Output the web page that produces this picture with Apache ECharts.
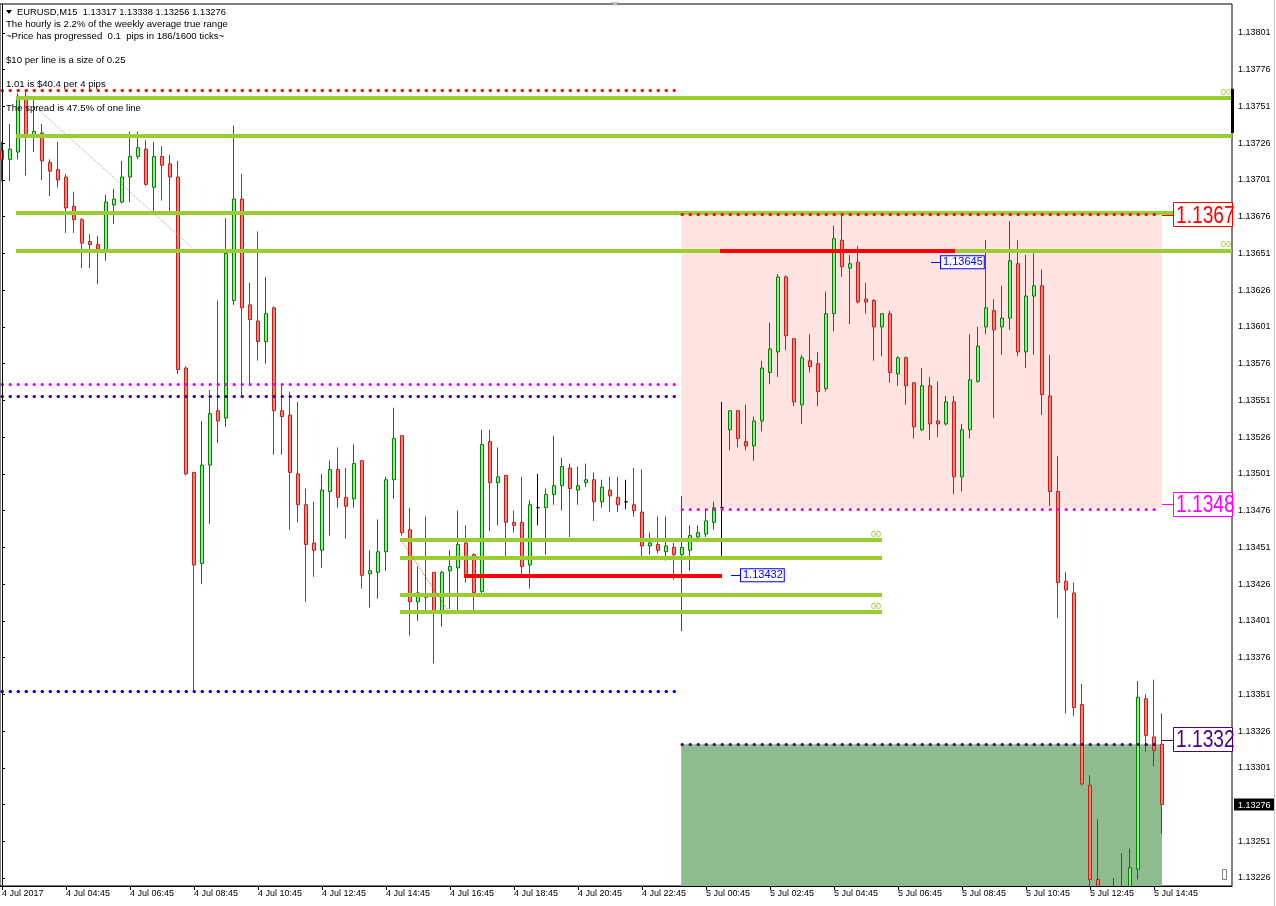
<!DOCTYPE html>
<html><head><meta charset="utf-8">
<script src="https://cdn.jsdelivr.net/npm/echarts@6/dist/echarts.min.js"></script>
<style>html,body{margin:0;padding:0;background:#fff;overflow:hidden}#c{width:1276px;height:906px}</style>
</head><body><div id="c"></div>
<script>
// ---- data (EURUSD M15, bars from 4 Jul 02:45, index 0..145) ----
const opens = [1.13721,1.13715,1.13720,1.13757,1.13730,1.13733,1.13713,1.13708,1.13703,1.13683,
1.13674,1.13659,1.13657,1.13653,1.13684,1.13686,1.13703,1.13717,1.13722,1.13696,
1.13717,1.13712,1.13703,1.13573,1.13502,1.13440,1.13507,1.13544,1.13539,1.13619,
1.13688,1.13616,1.13605,1.13591,1.13614,1.13544,1.13541,1.13501,1.13480,1.13454,
1.13449,1.13489,1.13504,1.13485,1.13484,1.13510,1.13433,1.13434,1.13448,1.13497,
1.13527,1.13463,1.13414,1.13418,1.13434,1.13408,1.13435,1.13437,1.13454,1.13446,
1.13421,1.13523,1.13495,1.13500,1.13468,1.13468,1.13439,1.13478,1.13478,1.13487,
1.13493,1.13505,1.13490,1.13495,1.13497,1.13482,1.13490,1.13485,1.13482,1.13480,
1.13475,1.13452,1.13453,1.13448,1.13451,1.13446,1.13449,1.13458,1.13460,1.13468,
1.13478,1.13531,1.13544,1.13523,1.13520,1.13537,1.13570,1.13584,1.13635,1.13593,
1.13548,1.13578,1.13576,1.13559,1.13610,1.13660,1.13641,1.13645,1.13620,1.13619,
1.13601,1.13610,1.13569,1.13580,1.13563,1.13531,1.13561,1.13537,1.13535,1.13550,
1.13499,1.13531,1.13564,1.13601,1.13612,1.13601,1.13607,1.13644,1.13584,1.13622,
1.13629,1.13554,1.13489,1.13428,1.13420,1.13344,1.13289,1.13225,1.13205,1.13196,
1.13212,1.13215,1.13232,1.13348,1.13322,1.13317];
const closes = [1.13715,1.13722,1.13758,1.13732,1.13734,1.13714,1.13707,1.13701,1.13682,1.13674,
1.13658,1.13657,1.13654,1.13686,1.13688,1.13703,1.13717,1.13723,1.13698,1.13717,
1.13711,1.13703,1.13572,1.13501,1.13439,1.13507,1.13542,1.13537,1.13651,1.13688,
1.13614,1.13606,1.13591,1.13610,1.13544,1.13540,1.13502,1.13480,1.13453,1.13449,
1.13490,1.13504,1.13485,1.13479,1.13508,1.13432,1.13435,1.13448,1.13497,1.13525,
1.13461,1.13414,1.13420,1.13417,1.13408,1.13434,1.13438,1.13453,1.13431,1.13420,
1.13521,1.13495,1.13499,1.13468,1.13466,1.13438,1.13480,1.13478,1.13487,1.13493,
1.13506,1.13491,1.13493,1.13497,1.13482,1.13492,1.13486,1.13480,1.13482,1.13476,
1.13452,1.13454,1.13449,1.13452,1.13446,1.13451,1.13459,1.13461,1.13469,1.13478,
1.13478,1.13544,1.13525,1.13520,1.13537,1.13573,1.13586,1.13635,1.13595,1.13550,
1.13580,1.13574,1.13557,1.13610,1.13661,1.13642,1.13644,1.13618,1.13618,1.13601,
1.13610,1.13570,1.13580,1.13561,1.13533,1.13561,1.13535,1.13535,1.13550,1.13499,
1.13531,1.13565,1.13588,1.13614,1.13599,1.13607,1.13646,1.13584,1.13622,1.13629,
1.13555,1.13489,1.13427,1.13422,1.13342,1.13290,1.13225,1.13205,1.13195,1.13212,
1.13218,1.13233,1.13349,1.13323,1.13313,1.13276];
const lows = [1.13700,1.13700,1.13715,1.13704,1.13720,1.13701,1.13690,1.13696,1.13665,1.13665,
1.13641,1.13641,1.13630,1.13646,1.13671,1.13685,1.13686,1.13715,1.13697,1.13680,
1.13687,1.13680,1.13569,1.13500,1.13353,1.13426,1.13467,1.13522,1.13533,1.13616,
1.13553,1.13561,1.13578,1.13576,1.13514,1.13514,1.13463,1.13468,1.13414,1.13431,
1.13437,1.13459,1.13478,1.13457,1.13478,1.13423,1.13410,1.13416,1.13435,1.13484,
1.13459,1.13391,1.13401,1.13408,1.13372,1.13397,1.13409,1.13407,1.13427,1.13408,
1.13418,1.13462,1.13466,1.13445,1.13461,1.13431,1.13423,1.13466,1.13446,1.13480,
1.13476,1.13458,1.13480,1.13492,1.13469,1.13478,1.13475,1.13475,1.13477,1.13472,
1.13445,1.13446,1.13447,1.13442,1.13429,1.13394,1.13435,1.13456,1.13458,1.13463,
1.13445,1.13517,1.13519,1.13517,1.13510,1.13530,1.13562,1.13567,1.13585,1.13547,
1.13535,1.13570,1.13547,1.13557,1.13598,1.13635,1.13603,1.13617,1.13610,1.13578,
1.13581,1.13563,1.13561,1.13548,1.13525,1.13530,1.13524,1.13526,1.13534,1.13487,
1.13489,1.13525,1.13563,1.13596,1.13539,1.13582,1.13599,1.13581,1.13573,1.13582,
1.13541,1.13479,1.13403,1.13338,1.13336,1.13289,1.13215,1.13198,1.13188,1.13190,
1.13200,1.13205,1.13225,1.13312,1.13302,1.13256];
const highs = [1.13727,1.13739,1.13760,1.13761,1.13757,1.13739,1.13715,1.13727,1.13705,1.13693,
1.13675,1.13664,1.13663,1.13691,1.13695,1.13714,1.13734,1.13734,1.13728,1.13727,
1.13724,1.13718,1.13714,1.13574,1.13502,1.13537,1.13558,1.13619,1.13675,1.13738,
1.13705,1.13631,1.13666,1.13635,1.13615,1.13561,1.13557,1.13550,1.13491,1.13482,
1.13501,1.13510,1.13519,1.13505,1.13521,1.13510,1.13449,1.13470,1.13499,1.13546,
1.13527,1.13478,1.13438,1.13472,1.13434,1.13435,1.13449,1.13476,1.13466,1.13447,
1.13531,1.13531,1.13519,1.13500,1.13476,1.13499,1.13483,1.13501,1.13491,1.13527,
1.13512,1.13508,1.13506,1.13508,1.13502,1.13497,1.13499,1.13499,1.13497,1.13505,
1.13504,1.13461,1.13472,1.13472,1.13454,1.13486,1.13466,1.13466,1.13476,1.13482,
1.13550,1.13544,1.13544,1.13548,1.13540,1.13578,1.13604,1.13637,1.13636,1.13593,
1.13582,1.13596,1.13584,1.13625,1.13670,1.13677,1.13650,1.13656,1.13631,1.13620,
1.13610,1.13612,1.13581,1.13581,1.13563,1.13573,1.13567,1.13564,1.13554,1.13554,
1.13535,1.13596,1.13601,1.13660,1.13620,1.13629,1.13673,1.13660,1.13650,1.13651,
1.13640,1.13582,1.13513,1.13434,1.13427,1.13358,1.13296,1.13266,1.13215,1.13226,
1.13243,1.13246,1.13360,1.13351,1.13361,1.13338];

const xTickIdx = [0,8,16,24,32,40,48,56,64,72,80,88,96,104,112,120,128,136,144];
const xTickLabels = ['4 Jul 2017','4 Jul 04:45','4 Jul 06:45','4 Jul 08:45','4 Jul 10:45','4 Jul 12:45',
 '4 Jul 14:45','4 Jul 16:45','4 Jul 18:45','4 Jul 20:45','4 Jul 22:45','5 Jul 00:45','5 Jul 02:45',
 '5 Jul 04:45','5 Jul 06:45','5 Jul 08:45','5 Jul 10:45','5 Jul 12:45','5 Jul 14:45'];
const yTickLabels = [1.13226,1.13251,1.13276,1.13301,1.13326,1.13351,1.13376,1.13401,1.13426,1.13451,
 1.13476,1.13501,1.13526,1.13551,1.13576,1.13601,1.13626,1.13651,1.13676,1.13701,1.13726,1.13751,1.13776,1.13801];
const gridLevels = [1.13801,1.13761,1.13721,1.13681,1.13641,1.13601,1.13561,1.13521,1.13481,1.13441,1.13401,1.13361,1.13321,1.13281,1.13241];
const bidPrice = 1.13276;
const greySolid = [[1.13760,1],[1.13601,2],[1.13440,1],[1.13280,1]];
const greenUpper = [[1.13757,true],[1.13731,false],[1.13679,false],[1.13653,true]];
const greenLower = [[1.13456,true],[1.13444,false],[1.13419,false],[1.13407,true]];
const redLines = [[1.13653,89.75,119.125],[1.13432,57.75,90]];
const dotsLeft = [[1.13762,'#FF0000'],[1.13562,'#FF00FF'],[1.13554,'#4B0082'],[1.13353,'#0000FF']];
const dotsRight = [[1.13678,'#FF0000'],[1.13477,'#FF00FF'],[1.13317,'#4B0082']];
const bigLabels = [[1.13677,'1.1367','#FF0000'],[1.13480,'1.1348','#FF00FF'],[1.13320,'1.1332','#4B0082']];
const blueLabels = [[1.13645,116.125],[1.13432,91.125]];
const zoneHigh = 1.13678, zoneMid = 1.13478, zoneLow = 1.13317;
const infoLines = ['EURUSD,M15  1.13317 1.13338 1.13256 1.13276',
 'The hourly is 2.2% of the weekly average true range',
 '~Price has progressed  0.1  pips in 186/1600 ticks~',
 '$10 per line is a size of 0.25',
 '1.01 is $40.4 per 4 pips',
 'The spread is 47.5% of one line'];

// ---- layout ----
const PPU = 845/0.00575;           // px per price unit
const yMin = 1.13226 - 8/PPU, yMax = 1.13801 + 29/PPU;
const xMin = -0.25, xMax = 153.75;
const FF = '"Liberation Sans", Arial, sans-serif';

const seg = (x1,p1,x2,p2,ls,label) => [{coord:[x1,p1], lineStyle:ls, label: label||{show:false}},{coord:[x2,p2]}];
const dot = c => ({color:c, width:3, type:[0.5,7.5], cap:'round'});

const overlay = [];
greenUpper.forEach(([p,l]) => overlay.push(seg(1.75,p,xMax,p,{color:'#9ACD32',width:4,type:'solid'},
  l?{show:true,position:'insideEndTop',formatter:'00',color:'#9ACD32',fontSize:9,distance:[1,1]}:null)));
greenLower.forEach(([p,l]) => overlay.push(seg(49.75,p,110,p,{color:'#9ACD32',width:4,type:'solid'},
  l?{show:true,position:'insideEndTop',formatter:'00',color:'#9ACD32',fontSize:9,distance:[1,1]}:null)));
redLines.forEach(([p,a,b]) => overlay.push(seg(a,p,b,p,{color:'#FF0000',width:4,type:'solid'})));
dotsLeft.forEach(([p,c]) => overlay.push(seg(0,p,84.4,p,dot(c))));
dotsRight.forEach(([p,c]) => overlay.push(seg(85,p,145,p,dot(c))));
bigLabels.forEach(([p,t,c]) => overlay.push(seg(145,p,146.375,p,{color:c,width:1,type:'solid'})));
blueLabels.forEach(([p,a]) => overlay.push(seg(a,p,a+1.25,p,{color:'#0000FF',width:1,type:'solid'},
  {show:true,position:'end',formatter:p.toFixed(5),color:'#0000FF',fontSize:11,fontFamily:FF,
   borderColor:'#0000FF',borderWidth:1,backgroundColor:'#fff',padding:[1,1,0,2],distance:0})));
overlay.push(seg(3.875,1.13752,23.75,1.13655,{color:'#A0A0A0',width:1,type:'dotted'}));
overlay.push(seg(50,1.13455,55.75,1.13408,{color:'#FF4500',width:1,type:'dotted'}));

const option = {
  animation:false,
  textStyle:{fontFamily:FF},
  grid:{left:0,right:44,top:4,bottom:20,show:true,borderColor:'#000',borderWidth:1,backgroundColor:'transparent',
    containLabel:false,outerBoundsMode:'none'},
  xAxis:{type:'value',min:xMin,max:xMax,z:50,
    axisLine:{lineStyle:{color:'#000'}},
    axisTick:{customValues:xTickIdx,length:4,lineStyle:{color:'#000'}},
    axisLabel:{customValues:xTickIdx,align:'left',margin:3,fontSize:9,color:'#000',
      formatter:v=>xTickLabels[Math.round(v/8)]},
    splitLine:{show:false}},
  yAxis:{type:'value',position:'right',min:yMin,max:yMax,scale:true,z:50,
    axisLine:{show:true,lineStyle:{color:'#000'}},
    axisTick:{show:true,customValues:yTickLabels,length:3,lineStyle:{color:'#000'}},
    axisLabel:{customValues:yTickLabels,margin:2,fontSize:9,color:'#000',
      formatter:v=>Math.abs(v-bidPrice)<1e-7?'{b|'+v.toFixed(5)+'}':'{n|'+v.toFixed(5)+'}',
      rich:{b:{backgroundColor:'#000',color:'#fff',fontSize:9,padding:[2,4,1,4]},
            n:{color:'#000',fontSize:9,padding:[0,0,0,4]}}},
    splitLine:{show:false}},
  series:[
    {type:'line',data:[],silent:true,
      markArea:{silent:true,z:1,data:[
        [{xAxis:84.9,yAxis:zoneMid,itemStyle:{color:'#FFE4E1'}},{xAxis:145,yAxis:zoneHigh}],
        [{xAxis:84.9,yAxis:yMin,itemStyle:{color:'#8FBC8F'}},{xAxis:145,yAxis:zoneLow}]
      ]}},
    {type:'line',data:[],silent:true,
      markLine:{silent:true,z:2,symbol:['none','none'],animation:false,label:{show:false},
        lineStyle:{color:'#A0A0A0',width:1,type:[3,3]},
        data:gridLevels.map(v=>({yAxis:v}))}},
    {type:'line',data:[],silent:true,
      markLine:{silent:true,z:3,symbol:['none','none'],animation:false,label:{show:false},
        data:greySolid.map(([v,w])=>({yAxis:v,lineStyle:{color:'#A9A9A9',width:w,type:'solid'}}))
          .concat([{yAxis:bidPrice,lineStyle:{color:'#C8C8C8',width:1,type:'solid'}}])}},
    {type:'candlestick',z:10,barWidth:4,silent:true,clip:true,
      encode:{x:0,y:[1,2,3,4]},
      data:opens.map((o,i)=>[i,o,closes[i],lows[i],highs[i]]),
      itemStyle:{color:'#90EE90',color0:'#FA8072',borderColor:'#008000',borderColor0:'#C0201E',borderColorDoji:'#000',borderWidth:1}},
    {type:'line',data:[],silent:true,
      markLine:{silent:true,z:20,symbol:['none','none'],animation:false,label:{show:false},data:overlay}}
  ]
};
const chart = echarts.init(document.getElementById('c'));
chart.setOption(option);

// decorations positioned through the axes
const P = (x,p) => chart.convertToPixel({xAxisIndex:0,yAxisIndex:0},[x,p]);
const right = P(xMax,yMax)[0];
const bottom = P(xMin,yMin)[1];
const g = [];
// mask for candles that run below the plot bottom (drawn under the axis)
g.push({type:'rect',z:30,shape:{x:0,y:bottom+1,width:right,height:906-bottom},style:{fill:'#fff'}});
infoLines.forEach((t,i)=>{
  const ys=[12,24.5,36.5,60.5,84.5,108.5];
  g.push({type:'text',x:i===0?17:6,y:ys[i],z:100,style:{text:t,font:(i===0?'9.4px ':'9.6px ')+FF,fill:'#000',verticalAlign:'middle'}});
});
g.push({type:'polygon',z:100,shape:{points:[[6,10],[12,10],[9,14]]},style:{fill:'#000'}});
bigLabels.forEach(([p,t,c])=>{
  const [x,y] = P(146.375,p);
  g.push({type:'rect',z:100,shape:{x:Math.round(x)+0.5,y:Math.round(y)-12.5,width:right-Math.round(x),height:24},style:{fill:'#fff',stroke:c,lineWidth:1}});
  g.push({type:'text',z:101,x:x+3,y:y+1,scaleX:0.8,style:{text:t,font:'24px '+FF,fill:c,verticalAlign:'middle'}});
});
{ const a=P(0,1.13763), b=P(0,1.13733);
  g.push({type:'rect',z:100,shape:{x:right-1,y:a[1],width:3,height:b[1]-a[1]},style:{fill:'#000'}}); }
g.push({type:'polygon',z:100,shape:{points:[[611,2],[619,2],[615,6]]},style:{fill:'#C0C0C0'}});
g.push({type:'rect',z:100,shape:{x:1222.5,y:869.5,width:4,height:10},style:{fill:'none',stroke:'#808080',lineWidth:1}});
g.push({type:'line',z:100,shape:{x1:1274.5,y1:0,x2:1274.5,y2:906},style:{stroke:'#C8C8C8',lineWidth:1}});
chart.setOption({graphic:g});
</script></body></html>
